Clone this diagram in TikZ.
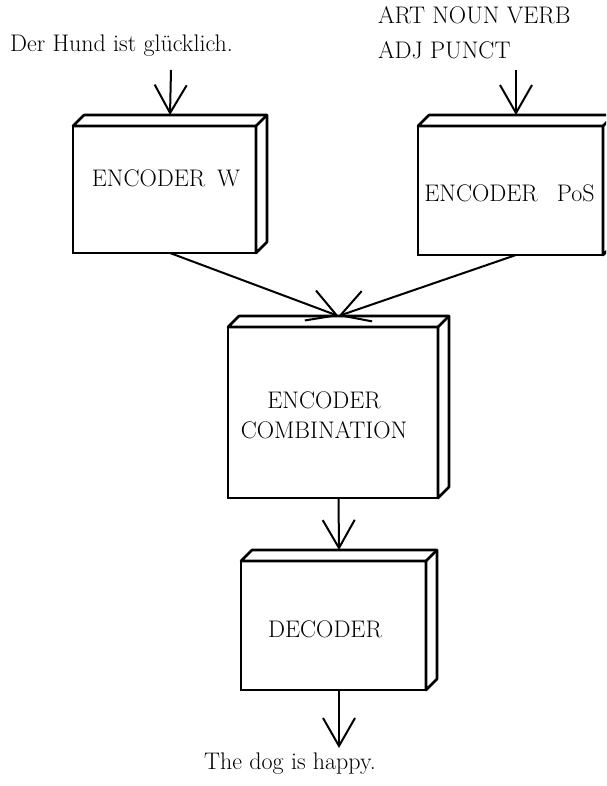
\documentclass[tikz,border=0pt]{standalone}
\usetikzlibrary{arrows.meta,calc}
\newcommand\cubedepth[1]{%
  \draw[depthface] (#1.north west) -- ++(11,-11) -- ($(#1.north east)+(11,-11)$)
    -- ($(#1.south east)+(11,-11)$) -- (#1.south east) -- (#1.north east) -- cycle;
  \draw[depthface] (#1.north east) -- ++(11,-11);
  \coordinate (#1-in) at ($(#1.north)+(5.5,-11)$);
  \coordinate (#1-out) at ($(#1.south)+(5.5,0)$);
}
\begin{document}
\begin{tikzpicture}[x=1pt,y=-1pt,
  cube/.style={draw, line width=2.6pt, fill=white, rectangle, outer sep=0pt, inner sep=0pt},
  depthface/.style={draw, line width=2.6pt, fill=white, line join=round},
  flow/.style={line width=2pt, -{Straight Barb[length=28pt,width=32pt,line width=2pt]}},
  txt/.style={font=\fontsize{24}{29}\selectfont, inner sep=0pt, outer sep=0pt}]
\useasboundingbox (0,0) rectangle (606,786);
\clip (0,0) rectangle (606,786);

% boxes
\node[cube, minimum width=183pt, minimum height=127pt] (encw) at (164.5,189.5) {};
\cubedepth{encw}
\node[cube, minimum width=185pt, minimum height=129pt] (encp) at (510.5,190.5) {};
\cubedepth{encp}
\node[cube, minimum width=210pt, minimum height=171pt] (comb) at (333,412.5) {};
\cubedepth{comb}
\node[cube, minimum width=185pt, minimum height=129pt] (dec) at (333.5,625.5) {};
\cubedepth{dec}

% texts
\node[txt, anchor=base] (tw) at (166,187) {ENCODER\hspace{0.5em}W};
\node[txt, anchor=base] (tp) at (509.5,202) {ENCODER\hspace{0.8em}PoS};
\node[txt, anchor=base] (tc1) at (324,408) {ENCODER};
\node[txt, anchor=base] (tc2) at (324,438) {COMBINATION};
\node[txt, anchor=base] (td) at (325,637) {DECODER};

\node[txt, anchor=base] (src) at (121.5,52) {Der Hund ist glücklich.};
\node[txt, anchor=base west] (pos1) at (378,24) {ART NOUN VERB};
\node[txt, anchor=base west] (pos2) at (378,59) {ADJ PUNCT};
\node[txt, anchor=base] (tgt) at (290,769) {The dog is happy.};

% connectors
\coordinate (srcarrow) at (171,70);
\coordinate (posarrow) at (516,70);
\coordinate (tgtarrow) at (339,748);
\draw[flow] (srcarrow) -- (encw-in);
\draw[flow] (posarrow) -- (encp-in);
\draw[flow] (encw-out) -- (comb-in);
\draw[flow] (encp-out) -- (comb-in);
\draw[flow] (comb-out) -- (dec-in);
\draw[flow] (dec-out) -- (tgtarrow);
\end{tikzpicture}
\end{document}
